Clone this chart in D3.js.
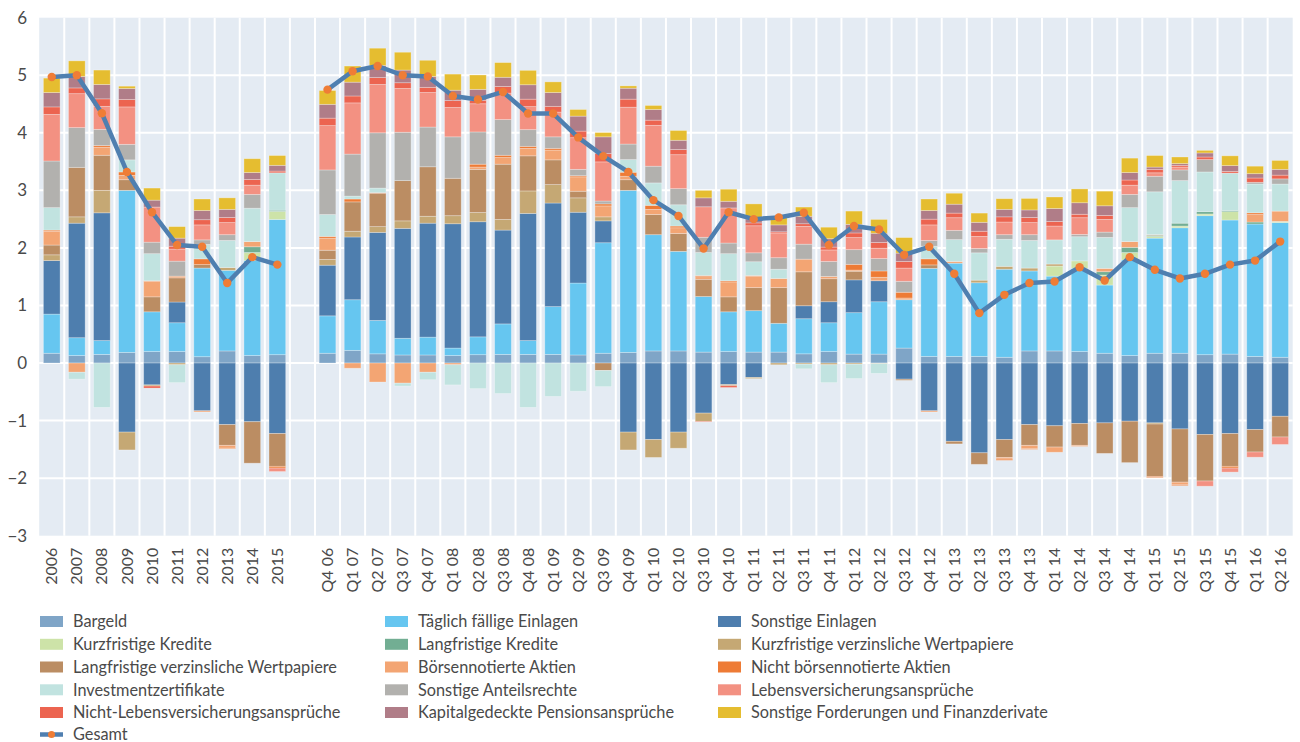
<!DOCTYPE html>
<html><head><meta charset="utf-8">
<script src="https://cdn.jsdelivr.net/npm/d3@7"></script>
<style>
html,body{margin:0;padding:0;background:#fff;}
svg{display:block;font-family:Lato,"Open Sans",sans-serif;}
</style></head>
<body><svg id="c" width="1300" height="742"></svg>
<script>
const categories = ["2006","2007","2008","2009","2010","2011","2012","2013","2014","2015",
"Q4 06","Q1 07","Q2 07","Q3 07","Q4 07","Q1 08","Q2 08","Q3 08","Q4 08","Q1 09",
"Q2 09","Q3 09","Q4 09","Q1 10","Q2 10","Q3 10","Q4 10","Q1 11","Q2 11","Q3 11",
"Q4 11","Q1 12","Q2 12","Q3 12","Q4 12","Q1 13","Q2 13","Q3 13","Q4 13","Q1 14",
"Q2 14","Q3 14","Q4 14","Q1 15","Q2 15","Q3 15","Q4 15","Q1 16","Q2 16"];
const yTicks = [-3,-2,-1,0,1,2,3,4,5,6];

const bargeld = [0.17,0.13,0.15,0.185,0.20,0.20,0.11,0.21,0.13,0.145, 0.17,0.22,0.16,0.14,0.14,0.13,0.145,0.15,0.15,0.15, 0.14,0.17,0.185,0.21,0.21,0.19,0.20,0.19,0.19,0.16, 0.20,0.155,0.155,0.26,0.115,0.115,0.115,0.10,0.21,0.21, 0.20,0.17,0.13,0.17,0.17,0.145,0.155,0.115,0.10];
const taeglich = [0.68,0.31,0.24,2.815,0.69,0.50,1.54,1.40,1.65,2.35, 0.65,0.88,0.58,0.29,0.31,0.13,0.31,0.53,0.24,0.83, 1.25,1.92,2.815,2.02,1.73,0.965,0.69,0.72,0.50,0.61, 0.50,0.72,0.91,0.84,1.53,1.62,1.28,1.53,1.39,1.30, 1.445,1.185,1.66,2.0,2.18,2.415,2.33,2.30,2.34];
const sonstEinlagen = [0.93,1.99,2.22,-1.20,-0.38,0.36,-0.83,-1.07,-1.02,-1.225, 0.88,1.09,1.53,1.91,1.98,2.16,2.0,1.63,2.21,1.80, 1.23,0.38,-1.20,-1.33,-1.20,-0.87,-0.375,-0.25,0,0.225, 0.365,0.57,0.365,-0.28,-0.83,-1.36,-1.56,-1.33,-1.07,-1.09, -1.05,-1.04,-1.01,-1.04,-1.145,-1.24,-1.225,-1.156,-0.925];
const kurzKredite = [0,0,0,0,0,0,0,0,0.14,0.14, 0,0,0,0,0,0,0,0,0,0, 0,0,0,0,0,0,0,0,0,0, 0,0,0,0,0,0,0,0,0,0.175, 0.13,0.174,0.13,0.03,0.03,0.03,0.145,0,0.02];
const langKredite = [0,0,0,0,0,0,0,0,0.10,0.02, 0,0,0,0,0,0,0,0,0,0, 0,0,0,0,0,0,0,0,0,0, 0,0,0,0,0,0,0,0,0,0, 0,0.058,0.09,0.02,0.05,0.04,0.02,0.035,0];
const kurzWP = [0.10,0.11,0.39,-0.31,-0.02,-0.03,0,0.05,0,0, 0.10,0.10,0.10,0.13,0.12,0.14,0.16,0.185,0.39,0.32, 0.25,0.07,-0.31,-0.31,-0.28,-0.145,-0.02,-0.02,-0.03,-0.02, -0.03,-0.02,-0.01,0,0,0,0.045,0.05,0.05,0.035, 0,0,0,-0.02,0,0,0,0,0];
const langWP = [0.17,0.86,0.61,0.185,0.26,0.42,0.06,-0.36,-0.72,-0.57, 0.16,0.51,0.58,0.70,0.86,0.65,0.75,0.96,0.61,0.43, 0.115,-0.13,0.185,0.35,0.31,0.30,0.26,0.40,0.62,0.59, 0.40,0.15,0,-0.02,0.06,-0.045,-0.20,-0.31,-0.36,-0.37, -0.38,-0.53,-0.72,-0.91,-0.925,-0.81,-0.57,-0.39,-0.36];
const boersenAktien = [0.24,-0.16,0.14,0.075,0.27,0.03,-0.02,-0.05,0.09,0, 0.21,-0.09,-0.33,-0.35,-0.16,-0.03,0.04,0.115,0.13,0.17, 0.25,0.19,0.06,0.09,0.10,0.045,0.26,0.20,0.16,0.22, 0.04,0.02,0.06,0.03,-0.02,0.03,0,-0.03,-0.06,-0.09, -0.02,0.058,0.10,0.01,-0.04,0,0,0.13,0.18];
const nichtBoersenAktien = [0.02,0,0.03,0.06,0.01,0,0.10,-0.01,0,-0.03, 0.03,0.05,0.01,0,0,0,0.05,0.04,0.035,0.03, 0.02,0.035,0.07,0.07,0.03,0.02,0.02,0.01,0,0, 0,0.10,0.11,0.10,0.105,0,0,-0.02,-0.01,0, 0,0,0,-0.02,-0.02,0,-0.03,0.03,0];
const investment = [0.39,-0.12,-0.77,0.21,0.47,-0.31,0.25,0.47,0.58,0.65, 0.38,0.05,0.08,-0.05,-0.13,-0.35,-0.445,-0.53,-0.77,-0.58, -0.49,-0.28,0.22,0.39,0.37,0.40,0.47,0.24,0.16,-0.08, -0.31,-0.25,-0.17,0,0.22,0.38,0.475,0.47,0.48,0.42, 0.42,0.538,0.59,0.745,0.74,0.69,0.65,0.50,0.47];
const sonstAnteil = [0.81,0.69,0.28,0.27,0.20,0.26,0.08,0.10,0.24,0, 0.775,0.73,0.96,0.84,0.69,0.72,0.56,0.62,0.29,0.20, 0.11,0.05,0.27,0.29,0.28,0.265,0.185,0.155,0.20,0.26, 0.26,0.255,0.215,0.19,0.10,0.16,0.075,0.08,0.10,0, 0.04,0.092,0.23,0.27,0.185,0.215,0,0.03,0.09];
const lebensVers = [0.81,0.59,0.40,0.65,0.61,0.21,0.26,0.21,0.16,-0.06, 0.77,0.89,0.84,0.76,0.60,0.51,0.49,0.46,0.40,0.43, 0.55,0.68,0.64,0.71,0.59,0.53,0.61,0.47,0.43,0.31, 0.20,0.21,0.18,0.23,0.27,0.22,0.21,0.22,0.21,0.24, 0.29,0.22,0.16,0.06,0.05,-0.09,-0.07,-0.09,-0.13];
const nichtLebensVers = [0.13,0.10,0.13,0.13,-0.035,0.05,0.09,0.09,0.10,0.03, 0.13,0.12,0.12,0.10,0.09,0.12,0.06,0.115,0.13,0.10, 0.115,0.145,0.14,0.09,0.09,-0.01,-0.03,0.05,0.02,0.045, 0.05,0.08,0.10,0.115,0.10,0.08,0.09,0.09,0.09,0.08, 0.06,0.069,0.09,0.06,0.03,0.045,0.03,0.075,0.065];
const pension = [0.25,0.20,0.25,0.19,0.12,0.14,0.16,0.14,0.12,0.10, 0.24,0.24,0.21,0.22,0.19,0.18,0.19,0.16,0.25,0.24, 0.26,0.29,0.19,0.185,0.16,0.155,0.115,0.07,0.12,0.13, 0.145,0.15,0.16,0.145,0.15,0.155,0.155,0.13,0.13,0.225, 0.20,0.168,0.13,0.04,0.03,0.07,0.10,0.075,0.10];
const sonstFord = [0.25,0.27,0.25,0.04,0.21,0.20,0.20,0.20,0.24,0.17, 0.24,0.28,0.30,0.31,0.28,0.28,0.25,0.255,0.25,0.185, 0.115,0.075,0.04,0.07,0.17,0.13,0.21,0.26,0.13,0.16, 0.20,0.23,0.24,0.27,0.20,0.19,0.16,0.185,0.20,0.20, 0.24,0.254,0.25,0.20,0.115,0.045,0.17,0.13,0.155];
const gesamt = [4.97,5.0,4.34,3.32,2.62,2.05,2.02,1.39,1.84,1.71, 4.75,5.07,5.16,5.0,4.98,4.64,4.58,4.71,4.335,4.335, 3.92,3.595,3.32,2.83,2.555,1.99,2.62,2.50,2.53,2.61, 2.05,2.38,2.32,1.88,2.02,1.55,0.867,1.185,1.39,1.416, 1.665,1.434,1.84,1.62,1.47,1.55,1.71,1.78,2.11];

const seriesNames = ["Bargeld","Täglich fällige Einlagen","Sonstige Einlagen","Kurzfristige Kredite","Langfristige Kredite","Kurzfristige verzinsliche Wertpapiere","Langfristige verzinsliche Wertpapiere","Börsennotierte Aktien","Nicht börsennotierte Aktien","Investmentzertifikate","Sonstige Anteilsrechte","Lebensversicherungsansprüche","Nicht-Lebensversicherungsansprüche","Kapitalgedeckte Pensionsansprüche","Sonstige Forderungen und Finanzderivate"];
const seriesValues = [bargeld,taeglich,sonstEinlagen,kurzKredite,langKredite,kurzWP,langWP,boersenAktien,nichtBoersenAktien,investment,sonstAnteil,lebensVers,nichtLebensVers,pension,sonstFord];
const colors = ["#7fa5c7","#66c6f0","#4e7eae","#cde3a8","#72ae93","#c5a874","#bb8d63","#f3a573","#ee7b35","#c1e3e0","#b2b1ae","#f39182","#ec6450","#b07d88","#e5bd30"];

const svg = d3.select("#c");
const L = 39.2, R = 1292.7, T = 17.7, B = 535.7;
const GAP = "__gap__";
const domain = categories.slice(0,10).concat([GAP], categories.slice(10));
const x = d3.scaleBand().domain(domain).range([L,R]).paddingInner(0.334).paddingOuter(0.167);
const y = d3.scaleLinear().domain([-3,6]).range([B,T]);

svg.append("rect").attr("x",L).attr("y",T).attr("width",R-L).attr("height",B-T).attr("fill","#e4ebf3");
const g = svg.append("g");
yTicks.filter(v=>v>-3 && v<6).forEach(v=>{
  g.append("line").attr("x1",L).attr("x2",R).attr("y1",y(v)).attr("y2",y(v)).attr("stroke","#fff").attr("stroke-width",2);
});
const step = x.step();
domain.forEach((d,i)=>{
  if(i===0) return;
  const xx = x(d) - x.paddingInner()*step/2;
  g.append("line").attr("x1",xx).attr("x2",xx).attr("y1",T).attr("y2",B).attr("stroke","#fff").attr("stroke-width",2);
});

const rows = categories.map((c,i)=>{const o={cat:c}; seriesNames.forEach((s,j)=>o[s]=seriesValues[j][i]); return o;});
const stack = d3.stack().keys(seriesNames).offset(d3.stackOffsetDiverging).order(d3.stackOrderNone);
const stacked = stack(rows);
const bars = svg.append("g");
stacked.forEach((layer,j)=>{
  bars.selectAll(null).data(layer.filter(d=>Math.abs(d[1]-d[0])>1e-9)).enter().append("rect")
    .attr("x",d=>x(d.data.cat))
    .attr("width",x.bandwidth())
    .attr("y",d=>y(Math.max(d[0],d[1])))
    .attr("height",d=>Math.abs(y(d[0])-y(d[1])))
    .attr("fill",colors[j])
    .attr("stroke","rgba(255,255,255,0.35)").attr("stroke-width",0.8);
});

const pts = categories.map((c,i)=>({cat:c,v:gesamt[i],seg:i<10?0:1}));
const line = d3.line().x(d=>x(d.cat)+x.bandwidth()/2).y(d=>y(d.v));
[0,1].forEach(s=>{
  svg.append("path").datum(pts.filter(p=>p.seg===s)).attr("d",line)
    .attr("fill","none").attr("stroke","#4f7fb0").attr("stroke-width",4.5).attr("stroke-linejoin","round");
});
svg.append("g").selectAll("circle").data(pts).enter().append("circle")
  .attr("cx",d=>x(d.cat)+x.bandwidth()/2).attr("cy",d=>y(d.v)).attr("r",4.2).attr("fill","#ef7d36");

const yAxis = d3.axisLeft(y).tickValues(yTicks).tickSize(0).tickPadding(0);
const ya = svg.append("g").attr("transform",`translate(${L-12},0)`).call(yAxis);
ya.select(".domain").remove();
ya.selectAll("text").attr("font-size",17).attr("fill","#4a4a4a").attr("font-family","Lato,'Open Sans',sans-serif");

const xAxis = d3.axisBottom(x).tickSize(0).tickFormat(d=>d===GAP?"":d);
const xa = svg.append("g").attr("transform",`translate(0,${B})`).call(xAxis);
xa.select(".domain").remove();
xa.selectAll("text").attr("font-size",16).attr("fill","#4a4a4a").attr("font-family","Lato,'Open Sans',sans-serif")
  .attr("transform","rotate(-90)").attr("text-anchor","end").attr("dy","0.35em").attr("x",-12).attr("y",0);

const colX = [40,385,718];
const rowY = [621.5,644.3,667,689.8,712.5,734.5];
const lg = svg.append("g").attr("font-size",16.3).attr("fill","#4a4a4a");
seriesNames.forEach((s,i)=>{
  const cx = colX[i%3], cy = rowY[Math.floor(i/3)];
  lg.append("rect").attr("x",cx).attr("y",cy-5.5).attr("width",23).attr("height",11).attr("fill",colors[i]);
  lg.append("text").attr("x",cx+33).attr("y",cy).attr("dy","0.35em").text(s);
});
const gy = rowY[5];
lg.append("line").attr("x1",40).attr("x2",63).attr("y1",gy).attr("y2",gy).attr("stroke","#4f7fb0").attr("stroke-width",4.5);
lg.append("circle").attr("cx",51.5).attr("cy",gy).attr("r",3.5).attr("fill","#ef7d36");
lg.append("text").attr("x",73).attr("y",gy).attr("dy","0.35em").text("Gesamt");
</script>
</body></html>
